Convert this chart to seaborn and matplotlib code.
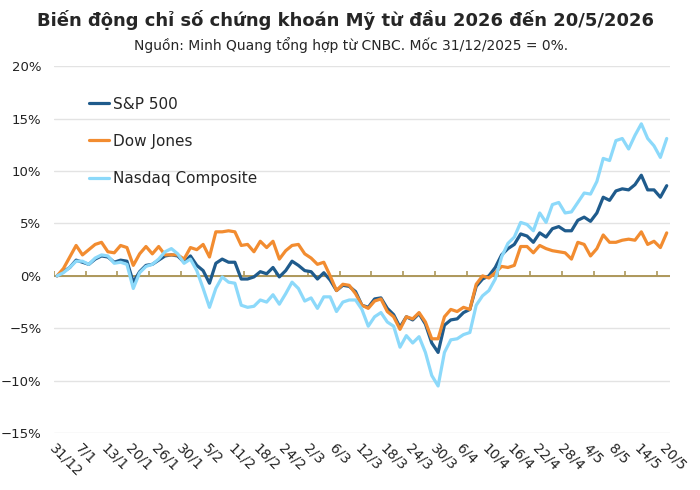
import numpy as np
import pandas as pd
import seaborn as sns
import matplotlib.pyplot as plt
from matplotlib.ticker import PercentFormatter

# --- data: % change vs 31/12/2025, one value per trading day ---
holidays = ['2026-01-01', '2026-01-19', '2026-02-16', '2026-04-03']
days = pd.bdate_range('2025-12-31', '2026-05-20', freq='C', holidays=holidays)

sp500 = [0.0, 0.4, 0.8, 1.5, 1.3, 1.1, 1.6, 1.9, 1.8, 1.3,
         1.5, 1.4, -0.6, 0.4, 1.0, 1.1, 1.5, 1.9, 2.0, 1.9,
         1.3, 1.9, 1.0, 0.5, -0.7, 1.2, 1.6, 1.3, 1.3, -0.3,
         -0.3, -0.1, 0.4, 0.2, 0.8, -0.1, 0.5, 1.4, 1.0, 0.5,
         0.4, -0.3, 0.3, -0.4, -1.4, -0.9, -1.0, -1.5, -2.8, -3.0,
         -2.2, -2.1, -3.1, -3.7, -4.9, -3.9, -4.2, -3.6, -4.6, -6.4,
         -7.3, -4.7, -4.2, -4.1, -3.5, -3.2, -1.0, -0.3, 0.0, 0.8,
         2.0, 2.6, 3.0, 4.0, 3.8, 3.2, 4.1, 3.7, 4.5, 4.7,
         4.3, 4.3, 5.3, 5.6, 5.2, 6.0, 7.5, 7.2, 8.1, 8.3,
         8.2, 8.7, 9.6, 8.2, 8.2, 7.5, 8.6]

dow = [0.0, 0.7, 1.8, 2.9, 2.0, 2.5, 3.0, 3.2, 2.3, 2.2,
       2.9, 2.7, 1.0, 2.1, 2.8, 2.1, 2.8, 2.0, 2.0, 2.0,
       1.6, 2.7, 2.5, 3.0, 1.8, 4.2, 4.2, 4.3, 4.2, 2.9,
       3.0, 2.3, 3.3, 2.7, 3.3, 1.6, 2.4, 2.9, 3.0, 2.1,
       1.7, 1.1, 1.3, 0.0, -1.4, -0.8, -0.9, -1.7, -2.8, -3.1,
       -2.4, -2.2, -3.4, -3.9, -5.1, -3.9, -4.1, -3.5, -4.4, -6.0,
       -6.0, -3.9, -3.2, -3.4, -3.0, -3.2, -0.8, 0.0, -0.2, 0.3,
       0.9, 0.8, 1.0, 2.8, 2.8, 2.2, 2.9, 2.6, 2.4, 2.3,
       2.2, 1.6, 3.2, 3.0, 1.9, 2.6, 3.9, 3.2, 3.2, 3.4,
       3.5, 3.4, 4.2, 3.0, 3.3, 2.7, 4.1]

nasdaq = [0.0, 0.3, 0.8, 1.4, 1.4, 1.1, 1.7, 2.0, 1.9, 1.2,
          1.3, 1.1, -1.2, 0.3, 0.9, 1.1, 1.6, 2.3, 2.6, 2.1,
          1.2, 1.6, 0.5, -1.2, -3.0, -1.2, -0.1, -0.6, -0.7, -2.8,
          -3.0, -2.9, -2.3, -2.5, -1.8, -2.7, -1.7, -0.6, -1.2, -2.4,
          -2.1, -3.1, -2.0, -2.0, -3.4, -2.5, -2.3, -2.3, -3.2, -4.8,
          -3.9, -3.5, -4.4, -4.8, -6.8, -5.7, -6.4, -5.8, -7.3, -9.5,
          -10.5, -7.3, -6.1, -6.0, -5.6, -5.4, -2.8, -1.9, -1.4, -0.3,
          1.8, 3.1, 3.7, 5.1, 4.9, 4.3, 6.0, 5.1, 6.8, 7.0,
          6.0, 6.1, 7.0, 7.9, 7.8, 9.0, 11.2, 11.0, 12.9, 13.1,
          12.1, 13.4, 14.5, 13.1, 12.4, 11.3, 13.1]

series_names = ['S&P 500', 'Dow Jones', 'Nasdaq Composite']
colors = {'S&P 500': '#1F5B8C', 'Dow Jones': '#F28C30', 'Nasdaq Composite': '#8CD9FA'}

n = len(days)
df = pd.DataFrame({'day': range(n), 'S&P 500': sp500, 'Dow Jones': dow,
                   'Nasdaq Composite': nasdaq})
long = df.melt('day', var_name='index', value_name='change')

sns.set_style('white')
plt.rcParams['font.family'] = ['DejaVu Sans']

fig = plt.figure(figsize=(7, 4.9), dpi=100)
ax = fig.add_axes([0.077, 0.116, 0.88, 0.749])

sns.lineplot(data=long, x='day', y='change', hue='index', hue_order=series_names,
             palette=colors, linewidth=2.3, ax=ax, zorder=3)

# zero line with small category ticks
gold = '#AD975A'
ax.axhline(0, color=gold, lw=1.4, zorder=2)
ax.vlines(np.arange(-0.5, n, 5), 0, 0.45, color=gold, lw=1.2, zorder=2)

ax.set_xlim(-0.5, n - 0.5)
ax.set_ylim(-15, 20)
ax.set_yticks(range(-15, 21, 5))
ax.yaxis.set_major_formatter(PercentFormatter(decimals=0))
ax.grid(axis='y', color='#E3E3E3', lw=1)
ax.set_axisbelow(True)

tick_pos = list(range(0, n, 4))
ax.set_xticks(tick_pos)
ax.set_xticklabels([f'{days[i].day}/{days[i].month}' for i in tick_pos],
                   rotation=-45, ha='left', va='top', rotation_mode='anchor')
ax.tick_params(axis='x', length=0, pad=6, labelsize=10, labelcolor='#222222')
ax.tick_params(axis='y', length=0, pad=9, labelsize=9.5, labelcolor='#222222')
ax.set_xlabel('')
ax.set_ylabel('')
sns.despine(ax=ax, left=True, bottom=True)

handles, labels = ax.get_legend_handles_labels()
ax.legend(handles, labels, loc='upper left', bbox_to_anchor=(0.057, 0.917),
          frameon=False, fontsize=11, handlelength=1.3, handletextpad=0.25,
          labelspacing=1.45, borderpad=0, borderaxespad=0)

fig.text(0.494, 0.959, 'Biến động chỉ số chứng khoán Mỹ từ đầu 2026 đến 20/5/2026',
         ha='center', va='center', fontsize=13, fontweight='bold')
fig.text(0.501, 0.908, 'Nguồn: Minh Quang tổng hợp từ CNBC. Mốc 31/12/2025 = 0%.',
         ha='center', va='center', fontsize=10)

fig.savefig('out.png', dpi=100)
